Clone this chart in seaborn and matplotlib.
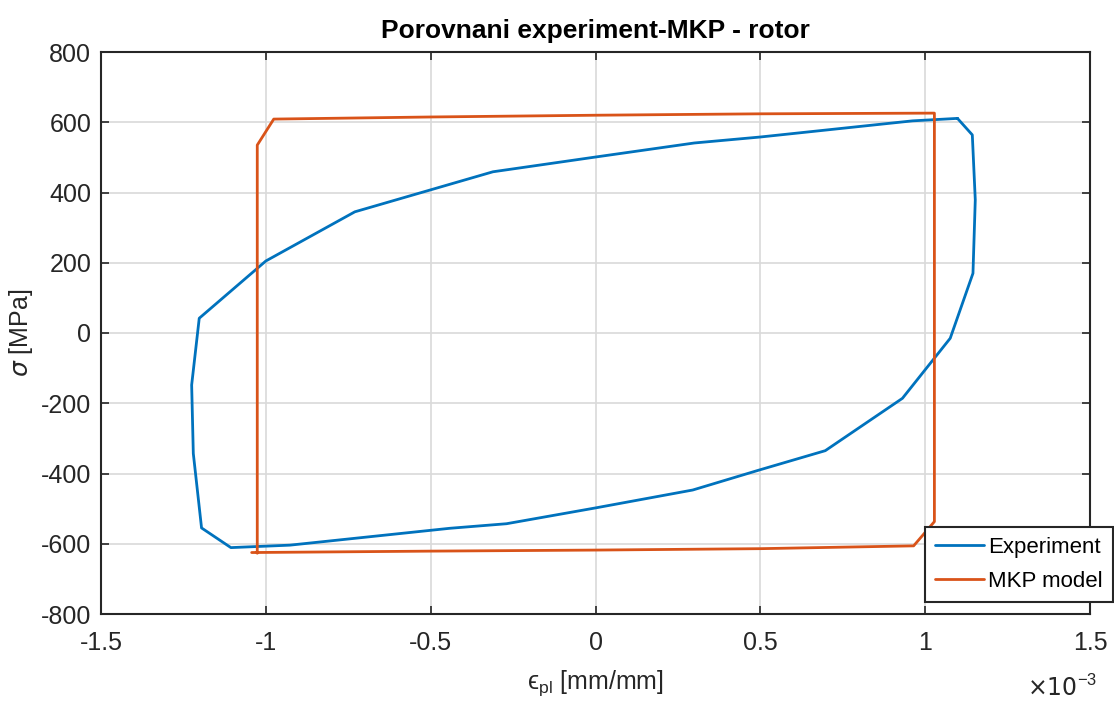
import numpy as np
import pandas as pd
import matplotlib
matplotlib.use("Agg")
import matplotlib.pyplot as plt
import seaborn as sns
from matplotlib.lines import Line2D

# Experiment loop (strain in 1e-3 mm/mm, stress in MPa)
exp_strain = [1.098, 1.143, 1.152, 1.145, 1.076, 0.931, 0.697, 0.497, 0.295, 0.0,
              -0.27, -0.442, -0.927, -1.106, -1.195, -1.220, -1.225, -1.202,
              -1.0, -0.730, -0.311, 0.0, 0.3, 0.5, 0.962, 1.098]
exp_stress = [611, 564, 379, 170, -15, -186, -335, -390, -447, -498,
              -543, -556, -604, -611, -555, -343, -148, 42,
              205, 345, 459, 501, 541, 558, 604, 611]

# MKP model loop
mkp_strain = [-1.043, -0.5, 0.0, 0.5, 0.965, 1.028, 1.028, 0.5, 0.0, -0.5, -0.976, -1.026, -1.026]
mkp_stress = [-625, -621, -618, -614, -606, -537, 626, 624, 620, 615, 609, 535, -627]

x_ticks = [-1.5, -1, -0.5, 0, 0.5, 1, 1.5]
x_ticklabels = ["-1.5", "-1", "-0.5", "0", "0.5", "1", "1.5"]
y_ticks = [-800, -600, -400, -200, 0, 200, 400, 600, 800]
series_names = ["Experiment", "MKP model"]
colors = ["#0072BD", "#D95319"]

sns.set_theme(style="ticks")
plt.rcParams['font.family'] = ['Liberation Sans', 'DejaVu Sans']
plt.rcParams['axes.unicode_minus'] = False
plt.rcParams['mathtext.fontset'] = 'custom'
plt.rcParams['mathtext.rm'] = 'Liberation Sans'
plt.rcParams['mathtext.it'] = 'DejaVu Sans:italic'

fig = plt.figure(figsize=(11.14, 7.02), dpi=100)
ax = fig.add_axes([101/1114, 1-614/702, (1090-101)/1114, (614-52)/702])

df_exp = pd.DataFrame({"x": exp_strain, "y": exp_stress, "s": series_names[0]})
df_mkp = pd.DataFrame({"x": mkp_strain, "y": mkp_stress, "s": series_names[1]})
df = pd.concat([df_exp, df_mkp], ignore_index=True)

sns.lineplot(data=df, x="x", y="y", hue="s", sort=False, estimator=None, units="s",
             palette=dict(zip(series_names, colors)),
             linewidth=2.0, ax=ax, legend=False)

ax.set_xlim(-1.5, 1.5)
ax.set_ylim(-800, 800)
ax.set_xticks(x_ticks)
ax.set_xticklabels(x_ticklabels)
ax.set_yticks(y_ticks)
ax.grid(True, color="#d9d9d9", linewidth=1.2)
ax.set_axisbelow(True)
for sp in ax.spines.values():
    sp.set_visible(True)
    sp.set_color("#262626")
    sp.set_linewidth(1.5)
ax.tick_params(direction="in", length=6, width=1.2, top=True, right=True,
               labelsize=18, colors="#262626")
ax.tick_params(axis="x", pad=12)
ax.tick_params(axis="y", pad=7)

ax.set_title("Porovnani experiment-MKP - rotor", fontsize=19, fontweight="bold",
             pad=10, color="black")
ax.set_xlabel("\u03f5$_{\\mathrm{pl}}$ [mm/mm]", fontsize=18, color="#262626", labelpad=10)
ax.set_ylabel(r"$\sigma$ [MPa]", fontsize=18, color="#262626", labelpad=4)

fig.text(1062/1114, 1-688/702, "\u00d710$^{-3}$", fontsize=17,
         family=['DejaVu Sans'], color="#262626", ha="center", va="center")

handles = [Line2D([], [], color=c, lw=2) for c in colors]
leg = fig.legend(handles, series_names, loc="lower right",
                 bbox_to_anchor=(1113/1114, 1-602/702), bbox_transform=fig.transFigure,
                 fontsize=16, frameon=True, fancybox=False, handlelength=2.2,
                 handletextpad=0.2, borderpad=0.45, labelspacing=0.6, borderaxespad=0)
leg.get_frame().set_edgecolor("#262626")
leg.get_frame().set_linewidth(1.5)
leg.get_frame().set_alpha(1)
for t in leg.get_texts():
    t.set_color("black")

fig.savefig("out.png", dpi=100)
